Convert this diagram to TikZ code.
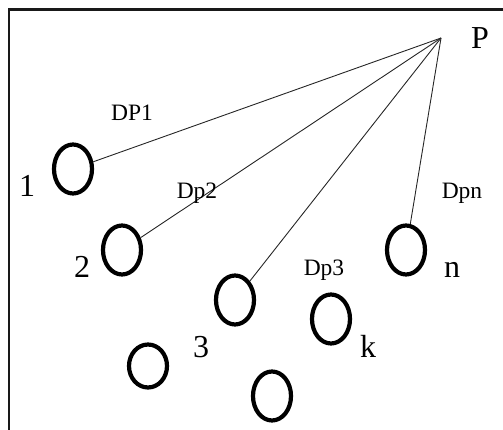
\documentclass[tikz,border=0pt]{standalone}
\usepackage{fontspec}
\setmainfont{Liberation Serif}
\usetikzlibrary{shapes.geometric}
\begin{document}
\begin{tikzpicture}[x=1pt,y=-1pt,
  ring/.style={ellipse, draw, line width=4.2pt, minimum width=38pt, minimum height=49pt, inner sep=0pt},
  link/.style={line width=0.9pt, draw=black!85},
  big/.style={font=\fontsize{32}{32}\selectfont, inner sep=0pt, anchor=base},
  small/.style={font=\fontsize{23.5}{23.5}\selectfont, inner sep=0pt, anchor=base}]
\useasboundingbox (0,0) rectangle (503,430);
\draw[line width=2.6pt, draw=black!90] (9,432) -- (9,9.5) -- (505,9.5);
\coordinate (P) at (441,38);
\node[ring] (e1) at (73,169) {};
\node[ring] (e2) at (122,250) {};
\node[ring] (e3) at (235,300) {};
\node[ring] (ek) at (331,319) {};
\node[ring] (en) at (406,250) {};
\node[ring, minimum height=43pt] (ebl) at (148,366) {};
\node[ring] (eb) at (272,396) {};
\draw[link] (P) -- (e1);
\draw[link] (P) -- (e2);
\draw[link] (P) -- (e3);
\draw[link] (P) -- (en);
\node[big] (lP) at (480,49) {P};
\node[big] (l1) at (27,197) {1};
\node[big] (l2) at (82,277) {2};
\node[big] (l3) at (201,357) {3};
\node[big] (lk) at (368,357) {k};
\node[big] (ln) at (452,277) {n};
\node[small] (dp1) at (132,121) {DP1};
\node[small] (dp2) at (197,199) {Dp2};
\node[small] (dpn) at (462,199) {Dpn};
\node[small] (dp3) at (324,276) {Dp3};
\end{tikzpicture}
\end{document}
